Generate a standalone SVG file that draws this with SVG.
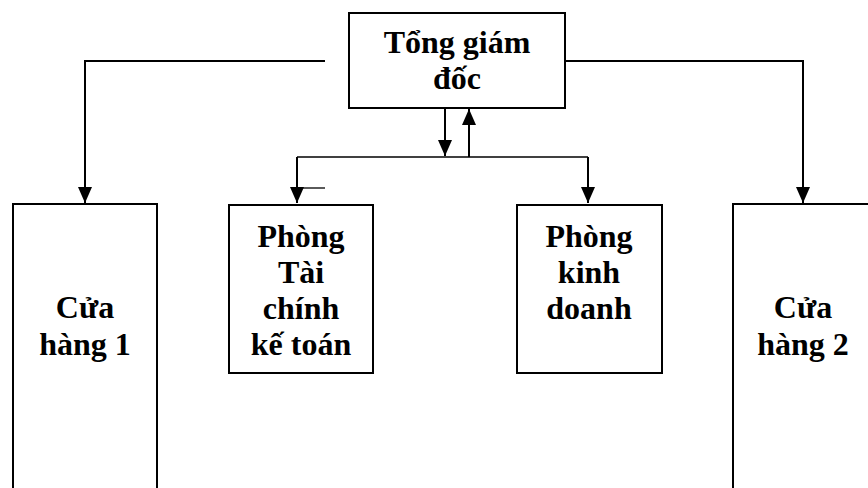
<svg xmlns="http://www.w3.org/2000/svg" width="868" height="488" viewBox="0 0 868 488">
<defs>
<marker id="ah" viewBox="0 0 16 14" refX="16" refY="7" markerWidth="16" markerHeight="14" markerUnits="userSpaceOnUse" orient="auto">
<path d="M0,0 L16,7 L0,14 Z" fill="#000"/>
</marker>
<style>
.box{fill:#fff;stroke:#000;stroke-width:2}
.ln{fill:none;stroke:#000;stroke-width:2}
.thin{fill:none;stroke:#000;stroke-width:1.3}
.t{font-family:"Liberation Serif","Times New Roman",serif;font-weight:bold;font-size:32px;text-anchor:middle;fill:#000}
</style>
</defs>
<rect width="868" height="488" fill="#fff"/>
<g id="connectors">
<path class="ln" d="M325,61 H85 V203" marker-end="url(#ah)"/>
<path class="ln" d="M565,61 H803 V203" marker-end="url(#ah)"/>
<path class="ln" d="M445,108 V156" marker-end="url(#ah)"/>
<path class="ln" d="M469,157 V109" marker-end="url(#ah)"/>
<path class="thin" d="M588,157 H297"/>
<path class="ln" d="M297,157 V203" marker-end="url(#ah)"/>
<path class="ln" d="M588,157 V203" marker-end="url(#ah)"/>
<path class="thin" d="M302,188 H325"/>
</g>
<g id="tong-giam-doc">
<rect class="box" x="349" y="13" width="216" height="95"/>
<text class="t" x="457" y="53">Tổng giám</text>
<text class="t" x="457" y="89">đốc</text>
</g>
<g id="cua-hang-1">
<rect class="box" x="13" y="204" width="144" height="300"/>
<text class="t" x="85" y="318">Cửa</text>
<text class="t" x="85" y="355">hàng 1</text>
</g>
<g id="phong-tai-chinh">
<rect class="box" x="229" y="205" width="144" height="168"/>
<text class="t" x="301" y="247">Phòng</text>
<text class="t" x="301" y="283">Tài</text>
<text class="t" x="301" y="319">chính</text>
<text class="t" x="301" y="355">kế toán</text>
</g>
<g id="phong-kinh-doanh">
<rect class="box" x="517" y="205" width="145" height="168"/>
<text class="t" x="589" y="247">Phòng</text>
<text class="t" x="589" y="283">kinh</text>
<text class="t" x="589" y="319">doanh</text>
</g>
<g id="cua-hang-2">
<rect class="box" x="733" y="204" width="160" height="300"/>
<text class="t" x="803" y="318">Cửa</text>
<text class="t" x="803" y="355">hàng 2</text>
</g>
</svg>
